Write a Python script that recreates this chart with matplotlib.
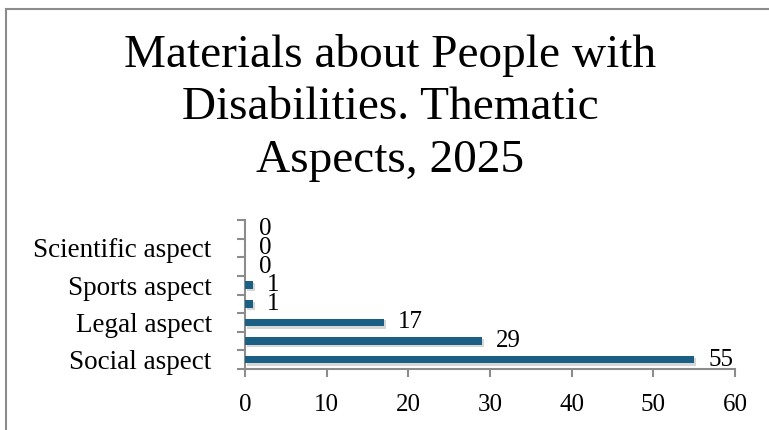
import matplotlib
matplotlib.use("Agg")
import matplotlib.pyplot as plt
import matplotlib.transforms as mtransforms
from matplotlib.patches import Rectangle

# categories from bottom to top; every second label is skipped on the axis, as in the source
categories = ['Social aspect', '', 'Legal aspect', '', 'Sports aspect', '', 'Scientific aspect', '']
values = [55, 29, 17, 1, 1, 0, 0, 0]
x_ticks = [0, 10, 20, 30, 40, 50, 60]
title = 'Materials about People with\nDisabilities. Thematic\nAspects, 2025'

plt.rcParams['font.family'] = ['Liberation Serif', 'DejaVu Serif']

fig = plt.figure(figsize=(7.69, 4.30), dpi=100)
ax = fig.add_axes([245 / 769, 1 - 369 / 430, 490 / 769, 149 / 430])

# chart-area border (only left and top visible in the picture)
fig.patches.append(Rectangle((6 / 769, -0.1), 1.2, 1 - 9 / 430 + 0.1, transform=fig.transFigure,
                             fill=False, edgecolor='#8c8c8c', linewidth=1.5))

pos = list(range(len(values)))
shadow = mtransforms.offset_copy(ax.transData, fig=fig, x=2, y=-2, units='dots')
ax.barh(pos, values, height=0.44, color='#9a9a9a', alpha=0.4, transform=shadow, zorder=2)
ax.barh(pos, values, height=0.40, color='#1b5f85', zorder=3)

for p, v in zip(pos, values):
    ax.annotate(str(v), (v, p), xytext=(10, 0), textcoords='offset points',
                ha='left', va='center', fontsize=18, color='black')

ax.set_xlim(0, 60)
ax.set_ylim(-0.5, len(values) - 0.5)
ax.set_xticks(x_ticks)
ax.set_xticklabels([str(t) for t in x_ticks])

# tick marks on category boundaries, labels at centres
ax.set_yticks([i - 0.5 for i in range(len(values) + 1)])
ax.set_yticklabels([])
ax.set_yticks(pos, minor=True)
ax.set_yticklabels(categories, minor=True)

for s in ['top', 'right']:
    ax.spines[s].set_visible(False)
for s in ['left', 'bottom']:
    ax.spines[s].set_color('#8c8c8c')
    ax.spines[s].set_linewidth(1.5)

ax.tick_params(axis='x', direction='out', length=6, width=1.5, color='#8c8c8c',
               labelsize=18, pad=12)
ax.tick_params(axis='y', which='major', direction='out', length=6, width=1.5, color='#8c8c8c')
ax.tick_params(axis='y', which='minor', length=0, labelsize=19.5, pad=24)

fig.text(390 / 769, 1 - 34 / 430, title, ha='center', va='top', fontsize=34,
         linespacing=1.3, color='black')

fig.savefig('out.png', dpi=100)
